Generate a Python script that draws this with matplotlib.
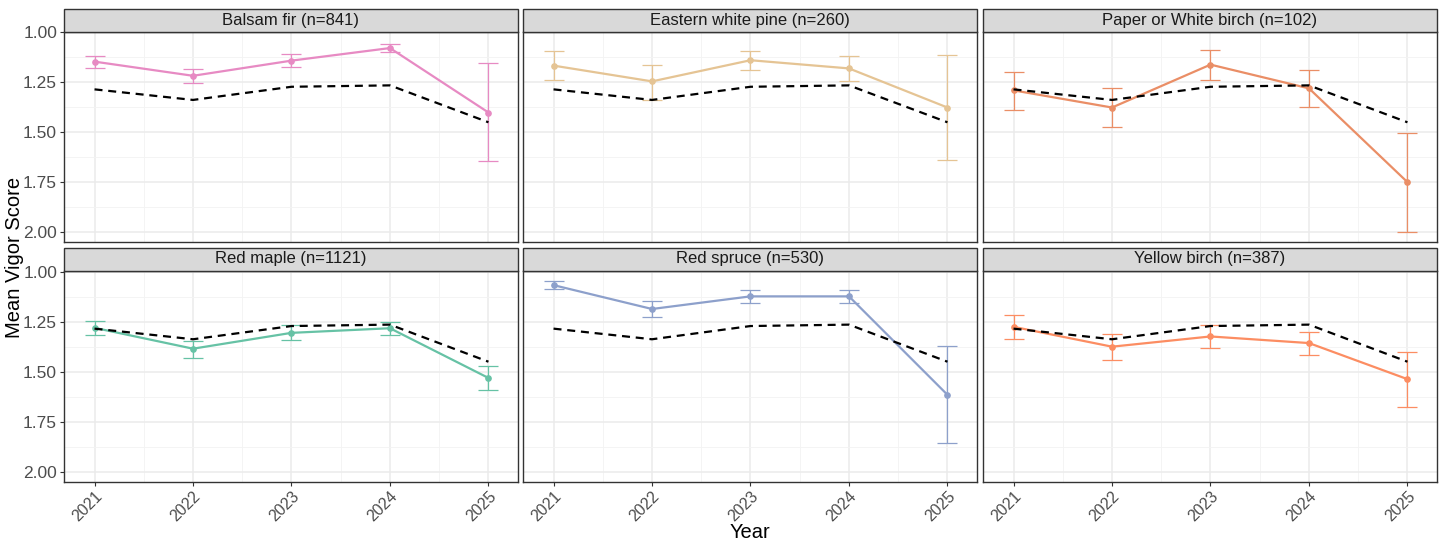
import matplotlib
matplotlib.use("Agg")
import matplotlib.pyplot as plt
from matplotlib.patches import Rectangle
from matplotlib.ticker import MultipleLocator, FixedLocator
import numpy as np

plt.rcParams['font.family'] = ['Liberation Sans', 'DejaVu Sans']

years = [2021, 2022, 2023, 2024, 2025]

# Mean across all species (dashed reference line)
overall_mean = [1.285, 1.338, 1.272, 1.265, 1.45]

species = [
    "Balsam fir (n=841)",
    "Eastern white pine (n=260)",
    "Paper or White birch (n=102)",
    "Red maple (n=1121)",
    "Red spruce (n=530)",
    "Yellow birch (n=387)",
]

balsam_fir_mean = [1.146, 1.217, 1.141, 1.078, 1.401]
balsam_fir_low = [1.116, 1.182, 1.109, 1.058, 1.154]
balsam_fir_high = [1.179, 1.255, 1.174, 1.098, 1.644]

white_pine_mean = [1.166, 1.245, 1.139, 1.180, 1.376]
white_pine_low = [1.093, 1.161, 1.093, 1.116, 1.111]
white_pine_high = [1.240, 1.336, 1.187, 1.245, 1.639]

paper_birch_mean = [1.290, 1.376, 1.161, 1.280, 1.750]
paper_birch_low = [1.197, 1.276, 1.086, 1.190, 1.502]
paper_birch_high = [1.387, 1.474, 1.237, 1.371, 2.000]

red_maple_mean = [1.281, 1.385, 1.306, 1.283, 1.531]
red_maple_low = [1.245, 1.345, 1.269, 1.250, 1.469]
red_maple_high = [1.316, 1.430, 1.342, 1.316, 1.593]

red_spruce_mean = [1.068, 1.187, 1.124, 1.124, 1.615]
red_spruce_low = [1.045, 1.145, 1.091, 1.091, 1.374]
red_spruce_high = [1.089, 1.228, 1.157, 1.157, 1.855]

yellow_birch_mean = [1.276, 1.375, 1.324, 1.357, 1.537]
yellow_birch_low = [1.217, 1.311, 1.268, 1.301, 1.400]
yellow_birch_high = [1.339, 1.443, 1.382, 1.417, 1.678]

colors = ["#E78AC3", "#E5C494", "#EA8E66", "#66C2A5", "#8DA0CB", "#FC8D62"]

series = [
    (balsam_fir_mean, balsam_fir_low, balsam_fir_high),
    (white_pine_mean, white_pine_low, white_pine_high),
    (paper_birch_mean, paper_birch_low, paper_birch_high),
    (red_maple_mean, red_maple_low, red_maple_high),
    (red_spruce_mean, red_spruce_low, red_spruce_high),
    (yellow_birch_mean, yellow_birch_low, yellow_birch_high),
]

W, H = 1448, 544
fig = plt.figure(figsize=(W / 100, H / 100), dpi=100)

col_left = [64, 523, 983]
col_width = 454
row_top = [31.5, 270.5]
row_bottom = [242, 482]
strip_h = 23

tick_color = "#4D4D4D"
border_color = "#333333"

for i, (name, (mean, low, high), color) in enumerate(zip(species, series, colors)):
    r, c = divmod(i, 3)
    left = col_left[c] / W
    bottom = 1 - row_bottom[r] / H
    height = (row_bottom[r] - row_top[r]) / H
    ax = fig.add_axes([left, bottom, col_width / W, height])

    ax.set_xlim(2020.69, 2025.3)
    ax.set_ylim(2.05, 0.995)

    ax.xaxis.set_major_locator(FixedLocator(years))
    ax.xaxis.set_minor_locator(FixedLocator([2021.5, 2022.5, 2023.5, 2024.5]))
    ax.yaxis.set_major_locator(MultipleLocator(0.25))
    ax.yaxis.set_minor_locator(MultipleLocator(0.125))

    ax.grid(which="major", color="#EBEBEB", linewidth=1.1, zorder=0)
    ax.grid(which="minor", color="#F3F3F3", linewidth=0.6, zorder=0)
    ax.set_axisbelow(True)

    for sp in ax.spines.values():
        sp.set_color(border_color)
        sp.set_linewidth(1.0)

    m = np.array(mean)
    yerr = np.vstack([m - np.array(low), np.array(high) - m])
    ax.errorbar(years, mean, yerr=yerr, fmt="none", ecolor=color,
                elinewidth=0.9, capsize=7, capthick=0.9, zorder=3)
    ax.plot(years, mean, color=color, linewidth=1.6, marker="o",
            markersize=3.8, zorder=4)
    ax.plot(years, overall_mean, color="black", linewidth=1.6,
            linestyle=(0, (3.6, 2.6)), zorder=5)

    ax.tick_params(which="minor", length=0)
    ax.tick_params(which="major", length=3, width=0.8, color=border_color,
                   labelcolor=tick_color, labelsize=12.5, pad=2)
    ax.tick_params(axis="x", which="major", labelsize=11.5)

    if c == 0:
        ax.set_yticklabels([f"{v:.2f}" for v in ax.get_yticks()])
    else:
        ax.tick_params(axis="y", which="major", length=0, labelleft=False)

    if r == 1:
        ax.set_xticklabels([str(y) for y in years], rotation=45,
                           ha="right", va="top", rotation_mode="anchor")
    else:
        ax.tick_params(axis="x", which="major", length=0, labelbottom=False)

    # facet strip
    strip_frac = strip_h / (row_bottom[r] - row_top[r])
    ax.add_patch(Rectangle((0, 1), 1, strip_frac, transform=ax.transAxes,
                           facecolor="#D9D9D9", edgecolor=border_color,
                           linewidth=1.0, clip_on=False, zorder=6))
    ax.text(0.5, 1 + strip_frac / 2, name, transform=ax.transAxes,
            ha="center", va="center", fontsize=12, color="#1A1A1A",
            zorder=7)

fig.text(15 / W, 1 - 257 / H, "Mean Vigor Score", rotation=90,
         ha="center", va="center", fontsize=14.5, color="black")
fig.text(750 / W, 1 - 533 / H, "Year", ha="center", va="center",
         fontsize=14.5, color="black")

fig.savefig("out.png", dpi=100, facecolor="white")
